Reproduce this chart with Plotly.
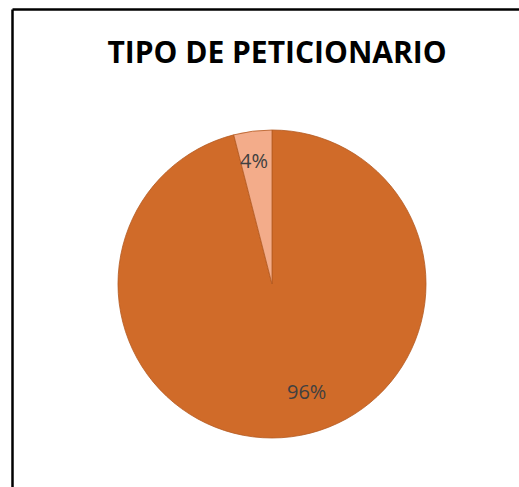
import plotly.graph_objects as go

# Data
categories = ["Persona natural", "Persona jurídica"]
values = [96, 4]
label_text = [f"{v}%" for v in values]

COLORS = ["#D06B29", "#F3AC8A"]

W, H = 519, 487

fig = go.Figure()

fig.add_trace(
    go.Pie(labels=categories,
           values=values,
           sort=False,
           direction="clockwise",
           rotation=0,
           textinfo="none",
           hoverinfo="label+percent",
           marker=dict(colors=COLORS,
                       line=dict(color="#B45A22", width=0.8)),
           domain=dict(x=[118 / W, 426 / W], y=[(H - 438) / H, (H - 130) / H]),
           showlegend=False))

# Percentage labels (positions as in the original chart)
label_pos = [(306 / W, 1 - 391 / H), (254 / W, 1 - 160 / H)]
for txt, (x, y) in zip(label_text, label_pos):
    fig.add_annotation(x=x, y=y, xref="paper", yref="paper",
                       xanchor="center", yanchor="middle",
                       text=txt, showarrow=False,
                       font=dict(family="Open Sans", size=20, color="#404040"))

# Chart border (top and left edges visible)
fig.add_shape(type="line", xref="paper", yref="paper",
              x0=12.5 / W, x1=1.0, y0=1 - 9.5 / H, y1=1 - 9.5 / H,
              line=dict(color="black", width=2.5))
fig.add_shape(type="line", xref="paper", yref="paper",
              x0=12.5 / W, x1=12.5 / W, y0=1 - 9.5 / H, y1=0,
              line=dict(color="black", width=2.5))

fig.update_layout(
    width=W,
    height=H,
    margin=dict(l=0, r=0, t=0, b=0),
    paper_bgcolor="white",
    plot_bgcolor="white",
    title={
        'text': "<b>TIPO DE PETICIONARIO</b>",
        'x': 277 / W,
        'xanchor': 'center',
        'y': 1 - 52 / H,
        'yanchor': 'middle',
        'font': dict(family="Open Sans", size=30, color="black")
    },
)

fig.write_html("out.html",
               config={"displayModeBar": False},
               post_script="document.body.style.margin='0';"
                           "document.body.style.overflow='hidden';"
                           "document.documentElement.style.overflow='hidden';")
